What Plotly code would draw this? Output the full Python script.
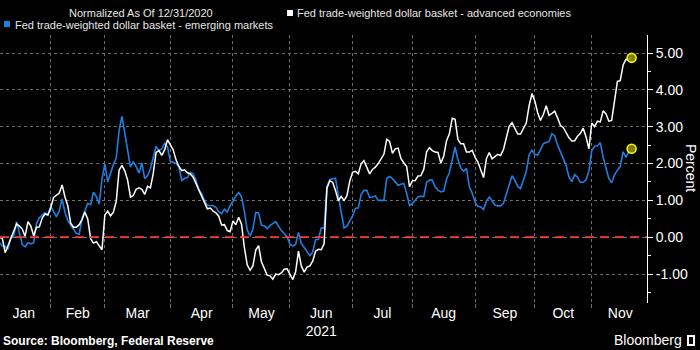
import plotly.graph_objects as go

# ---------------- data ----------------
# values sampled once per trading day, starting at trading-day index 2 of 2021
advanced = [
    0.0, -0.03, -0.42, -0.22, -0.02, 0.2, 0.36, 0.3, 0.22, 0.02,
    0.42, 0.3, 0.04, 0.27, 0.28, 0.52, 0.63, 0.6, 0.8, 1.08,
    1.15, 1.2, 1.42, 1.09, 0.85, 0.38, 0.27, 0.27, 0.34, 0.48,
    0.68, 0.49, -0.04, -0.16, -0.12, -0.24, -0.34, 0.6, 0.71, 0.58,
    0.68, 0.97, 1.82, 1.95, 1.8, 1.55, 1.09, 1.13, 1.3, 1.34,
    1.3, 1.16, 1.38, 1.34, 1.73, 2.3, 2.35, 2.22, 2.37, 2.65,
    2.5, 2.37, 2.1, 1.92, 1.81, 1.83, 1.75, 1.72, 1.63, 1.45,
    1.29, 1.1, 0.95, 0.77, 0.79, 0.71, 0.66, 0.57, 0.33, 0.34,
    0.18, 0.15, 0.44, 0.34, 0.54, 0.35, -0.28, -0.75, -0.9, -0.78,
    -0.35, -0.23, -0.67, -0.84, -1.03, -1.05, -1.14, -1.0, -1.02, -0.97,
    -0.87, -0.86, -1.0, -1.15, -0.94, -0.38, -0.78, -0.95, -0.81, -0.78,
    -0.65, -0.38, -0.33, -0.34, -0.18, 1.33, 1.53, 1.49, 1.27, 0.99,
    1.11, 1.0, 1.12, 1.52, 1.76, 1.79, 1.72, 1.99, 2.08, 1.9,
    1.72, 1.84, 1.9, 2.0, 2.14, 2.25, 2.66, 2.6, 2.28, 2.4,
    2.42, 2.13, 2.02, 1.92, 1.37, 1.53, 1.54, 1.66, 1.67, 1.84,
    2.32, 2.43, 2.35, 2.31, 2.3, 2.01, 2.2, 2.62, 2.81, 3.23,
    3.2, 2.65, 2.54, 2.54, 2.31, 2.31, 2.36, 2.17, 2.04, 1.85,
    1.62, 2.13, 2.3, 2.13, 2.2, 2.25, 2.22, 2.38, 2.7, 3.01,
    3.11, 2.97, 2.8, 2.8, 2.97, 3.1, 3.57, 3.9, 3.7, 3.38,
    3.17, 3.33, 3.57, 3.31, 3.36, 3.42, 3.24, 3.03, 2.98, 2.85,
    2.7, 2.61, 2.62, 2.74, 2.82, 2.96, 2.72, 2.4, 3.1, 3.0,
    3.15, 3.13, 3.43, 3.35, 3.15, 3.17, 3.75, 4.23, 4.25, 4.67,
    4.83, 4.82, 4.87,
]
emerging = [
    -0.15, -0.24, -0.25, -0.33, 0.0, 0.03, 0.42, 0.1, -0.2, -0.26,
    -0.15, -0.18, -0.15, 0.37, 0.53, 0.6, 0.67, 0.61, 0.83, 0.7,
    0.55, 0.72, 1.04, 0.67, 0.45, 0.33, 0.22, 0.1, 0.08, 0.52,
    0.72, 0.92, 0.88, 1.22, 1.1, 0.9, 1.58, 2.0, 1.5, 1.75,
    1.97, 2.15, 2.9, 3.28, 2.85, 2.35, 1.9, 2.05, 1.92, 1.74,
    2.02, 1.59, 1.67, 1.86, 2.17, 2.47, 2.35, 2.4, 2.55, 2.45,
    2.06, 2.04, 2.0, 1.91, 1.54, 1.6, 1.62, 1.76, 1.72, 1.55,
    1.29, 1.18, 0.99, 0.86, 0.86, 0.86, 0.81, 0.69, 0.64, 0.76,
    0.68, 0.86, 0.98, 1.12, 1.21, 1.1, 0.7, 0.2, 0.03, 0.22,
    0.67, 0.66, 0.32, 0.31, 0.23, 0.32, 0.37, 0.42, 0.3, 0.18,
    0.1, 0.01, -0.19, -0.24, -0.2, 0.13, -0.17, -0.28, -0.4, -0.5,
    -0.4, -0.07, -0.06, 0.25, 0.24, 1.38, 1.57, 1.58, 1.6, 1.13,
    0.7, 0.25, 0.3, 0.44, 0.58, 0.78, 0.8, 1.16, 1.27, 1.27,
    1.08, 1.09, 1.12, 1.0, 1.0, 1.0, 1.6, 1.65, 1.59, 1.5,
    1.41, 1.44, 1.46, 1.19, 0.86, 0.91, 1.0, 1.1, 1.11, 1.1,
    1.49, 1.55, 1.55, 1.37, 1.28, 1.23, 1.25, 1.58, 1.75, 2.1,
    2.45, 2.1, 1.88, 1.79, 1.87, 1.37, 1.2, 0.95, 0.84, 0.82,
    0.75, 0.98, 1.09, 0.99, 0.87, 0.85, 0.85, 0.92, 1.18, 1.43,
    1.67, 1.54, 1.38, 1.32, 1.54, 1.78, 2.24, 2.36, 2.25, 2.23,
    2.38, 2.54, 2.57, 2.6, 2.81, 2.75, 2.5, 2.32, 2.09, 1.95,
    1.63, 1.51, 1.7, 1.63, 1.49, 1.49, 1.56, 1.8, 2.35, 2.47,
    2.48, 2.57, 2.17, 1.89, 1.59, 1.48, 1.69, 1.82, 1.92, 2.32,
    2.17, 2.32, 2.4,
]
first_day_index = 2
n = min(len(advanced), len(emerging))
advanced = advanced[:n]
emerging = emerging[:n]
day_index = list(range(first_day_index, first_day_index + n))

month_names = ["Jan", "Feb", "Mar", "Apr", "May", "Jun<br>2021", "Jul", "Aug", "Sep", "Oct", "Nov"]
# trading-day index of the first trading day of each month (Jan..Dec)
month_start_idx = [1, 20, 39, 62, 84, 104, 126, 147, 169, 190, 210, 230]
y_ticks = [-1, 0, 1, 2, 3, 4, 5]

name_adv = "Fed trade-weighted dollar basket - advanced economies"
name_em = "Fed trade-weighted dollar basket - emerging markets"

# ---------------- figure ----------------
W, H = 700, 350
ML, MR, MT, MB = 0, 53, 35, 47
PW = W - ML - MR
PH = H - MT - MB
x_range = [2.18, 229.4]
y_range = [-1.787, 5.49]

def px_x(px):
    return (px - ML) / PW

def px_y(py):
    return (H - MB - py) / PH

month_mid = [(month_start_idx[k] + month_start_idx[k + 1]) / 2 for k in range(len(month_names))]

fig = go.Figure()
fig.add_trace(go.Scatter(x=day_index, y=emerging, mode="lines", name=name_em,
                         line=dict(color="#1f7fe0", width=1.6), showlegend=False))
fig.add_trace(go.Scatter(x=day_index, y=advanced, mode="lines", name=name_adv,
                         line=dict(color="#ffffff", width=1.5), showlegend=False))
fig.add_trace(go.Scatter(x=[day_index[-1], day_index[-1]], y=[advanced[-1], emerging[-1]],
                         xaxis="x2", mode="markers", showlegend=False,
                         marker=dict(size=9, color="rgba(140,140,10,0.9)",
                                     line=dict(color="#f2f21a", width=1.6))))

font_family = "Liberation Sans, Arial, sans-serif"
grid_col = "#6e6e6e"

fig.update_layout(
    width=W, height=H,
    margin=dict(l=ML, r=MR, t=MT, b=MB),
    paper_bgcolor="#000000", plot_bgcolor="#000000",
    font=dict(family=font_family, color="#ffffff", size=14),
    showlegend=False,
    xaxis=dict(
        range=x_range, tickmode="array", tickvals=month_start_idx[1:11],
        ticktext=[""] * 10, showgrid=True, gridcolor=grid_col, griddash="dot",
        gridwidth=1, ticks="outside", ticklen=4, tickcolor=grid_col,
        showline=False, zeroline=False, fixedrange=True,
    ),
    xaxis2=dict(
        range=x_range, overlaying="x", anchor="y", side="bottom",
        tickmode="array", tickvals=month_mid, ticktext=month_names,
        showgrid=False, ticks="", showline=False, zeroline=False,
        tickfont=dict(size=14, color="#ffffff"),
    ),
    yaxis=dict(
        range=y_range, side="right", tickmode="array", tickvals=y_ticks,
        ticktext=["%.2f" % v for v in y_ticks],
        showgrid=True, gridcolor=grid_col, griddash="dot", gridwidth=1,
        ticks="outside", ticklen=5, tickcolor="#ffffff",
        showline=True, linecolor="#ffffff", linewidth=1,
        zeroline=False, tickfont=dict(size=14, color="#ffffff"),
        minor=dict(tickvals=[v + 0.5 for v in range(-2, 6)], ticks="outside",
                   ticklen=3, tickcolor="#ffffff", showgrid=False),
    ),
    shapes=[
        dict(type="line", xref="paper", yref="y", x0=0, x1=1, y0=0, y1=0,
             line=dict(color="#ff3b3b", width=1.7, dash="9px,6px")),
        dict(type="rect", xref="paper", yref="paper",
             x0=px_x(287), x1=px_x(293), y0=px_y(16), y1=px_y(10),
             fillcolor="#ffffff", line=dict(width=0)),
        dict(type="rect", xref="paper", yref="paper",
             x0=px_x(4), x1=px_x(10), y0=px_y(27), y1=px_y(21),
             fillcolor="#1f7fe0", line=dict(width=0)),
        dict(type="rect", xref="paper", yref="paper",
             x0=px_x(687), x1=px_x(695), y0=px_y(346), y1=px_y(335),
             fillcolor="#ffffff", line=dict(width=0)),
        dict(type="rect", xref="paper", yref="paper",
             x0=px_x(689), x1=px_x(693), y0=px_y(344), y1=px_y(337),
             fillcolor="#000000", line=dict(width=0)),
    ],
    annotations=[
        dict(text="Normalized As Of 12/31/2020", xref="paper", yref="paper",
             x=px_x(67), y=px_y(13), xanchor="left", yanchor="middle", showarrow=False,
             font=dict(size=11, color="#e6e6e6", family=font_family)),
        dict(text=name_adv, xref="paper", yref="paper",
             x=px_x(295), y=px_y(13), xanchor="left", yanchor="middle", showarrow=False,
             font=dict(size=11, color="#e6e6e6", family=font_family)),
        dict(text=name_em, xref="paper", yref="paper",
             x=px_x(13), y=px_y(25), xanchor="left", yanchor="middle", showarrow=False,
             font=dict(size=11, color="#e6e6e6", family=font_family)),
        dict(text="Percent", xref="paper", yref="paper",
             x=px_x(691), y=px_y(168), xanchor="center", yanchor="middle", showarrow=False,
             textangle=90, font=dict(size=14, color="#ffffff", family=font_family)),
        dict(text="<b>Source: Bloomberg, Federal Reserve</b>", xref="paper", yref="paper",
             x=px_x(1), y=px_y(341), xanchor="left", yanchor="middle", showarrow=False,
             font=dict(size=12, color="#ffffff", family=font_family)),
        dict(text="Bloomberg", xref="paper", yref="paper",
             x=px_x(612), y=px_y(340), xanchor="left", yanchor="middle", showarrow=False,
             font=dict(size=14, color="#ffffff", family=font_family)),
    ],
)

fig.write_html("out.html")
